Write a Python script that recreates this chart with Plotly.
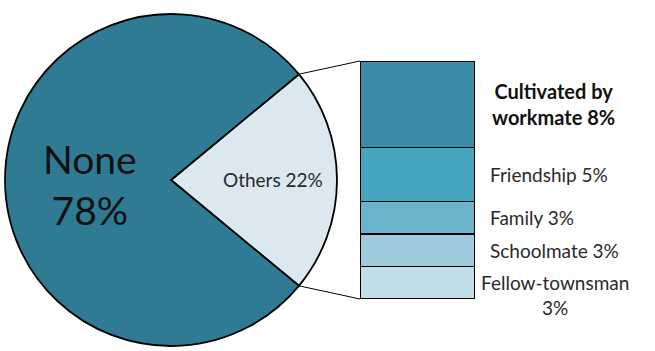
import math
import plotly.graph_objects as go

# Pie: share of respondents with / without a mentor relationship
pie_labels = ["Others", "None"]
pie_values = [22, 78]
pie_colors = ["#dbe8ef", "#2f7b93"]

# Breakdown of "Others" (bottom to top in the stacked bar)
bar_labels = ["Fellow-townsman", "Schoolmate", "Family", "Friendship", "Cultivated by workmate"]
bar_values = [3, 3, 3, 5, 8]
bar_colors = ["#c3dde8", "#9dcbdb", "#6ab5cc", "#45a5bf", "#3b8ca6"]

W, H = 655, 351
FONT = "Lato"
ROT = 50.4

fig = go.Figure()

# pie occupying the left part of the page
fig.add_trace(go.Pie(
    labels=pie_labels, values=pie_values, sort=False, direction="clockwise",
    rotation=ROT, marker=dict(colors=pie_colors, line=dict(color="black", width=1.8)),
    textinfo="none", hoverinfo="label+percent", showlegend=False,
    domain=dict(x=[5 / W, 337 / W], y=[5 / H, 337 / H]),
))

# stacked bar of the "Others" breakdown
for lab, val, col in zip(bar_labels, bar_values, bar_colors):
    fig.add_trace(go.Bar(
        x=[0], y=[val], name=lab, width=1,
        marker=dict(color=col, line=dict(color="black", width=1.5)),
        showlegend=False, hoverinfo="name+y",
    ))

bar_x0, bar_x1 = 360 / W, 475 / W
bar_y0, bar_y1 = (H - 299) / H, (H - 61) / H
total = sum(bar_values)

fig.update_layout(
    width=W, height=H, margin=dict(l=0, r=0, t=0, b=0),
    paper_bgcolor="white", plot_bgcolor="rgba(0,0,0,0)", barmode="stack",
    xaxis=dict(domain=[bar_x0, bar_x1], range=[-0.5, 0.5], visible=False),
    yaxis=dict(domain=[bar_y0, bar_y1], range=[0, total], visible=False),
    font=dict(family=FONT, color="#222"),
)

# connector lines from the pie slice edges to the bar
r = 166
start = math.radians(90 - ROT)
end = start - math.radians(360 * pie_values[0] / sum(pie_values))
for ang, yb in [(start, bar_y1), (end, bar_y0)]:
    px = 171 + r * math.cos(ang)
    py = 171 + r * math.sin(ang)
    fig.add_shape(type="line", xref="paper", yref="paper",
                  x0=px / W, y0=py / H, x1=bar_x0, y1=yb,
                  line=dict(color="black", width=1))


def note(x, y, text, size, color="#2a2a2a", xanchor="center", yanchor="middle", **kw):
    fig.add_annotation(x=x, y=y, xref="paper", yref="paper", showarrow=False,
                       xanchor=xanchor, yanchor=yanchor, text=text,
                       font=dict(size=size, color=color), **kw)


# pie labels
note(90 / W, (H - 184) / H, f"{pie_labels[1]}<br>{pie_values[1]}%", 39, color="#111", align="center")
note(273 / W, (H - 180) / H, f"{pie_labels[0]} {pie_values[0]}%", 19)

# bar labels, positioned at each segment's midpoint
cum = 0
mids = []
for v in bar_values:
    mids.append(cum + v / 2)
    cum += v
for lab, val, mid in zip(bar_labels, bar_values, mids):
    yp = bar_y0 + (bar_y1 - bar_y0) * mid / total
    if lab.startswith("Cultivated"):
        note(553 / W, yp, f"<b>Cultivated by<br>workmate {val}%</b>", 20, color="#111", align="center")
    elif lab == "Fellow-townsman":
        note(555 / W, yp, f"{lab}<br>{val}%", 19, yanchor="top", yshift=14, align="center")
    else:
        note(488 / W, yp, f"{lab} {val}%", 19, xanchor="left")

fig.write_html("out.html")
